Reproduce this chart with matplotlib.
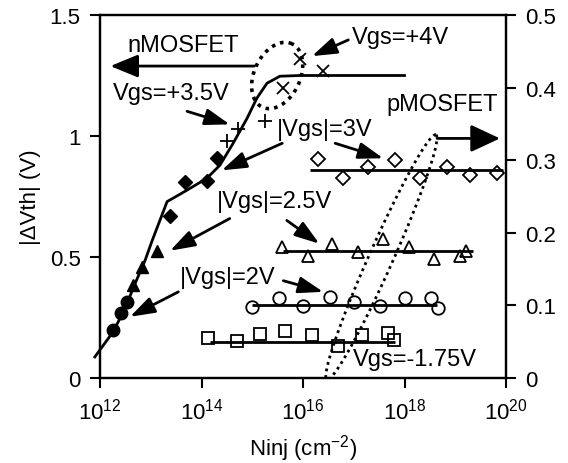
import matplotlib
matplotlib.use('Agg')
import numpy as np
import matplotlib.pyplot as plt

plt.rcParams['font.family'] = ['Liberation Sans', 'DejaVu Sans']
plt.rcParams['mathtext.fontset'] = 'custom'
plt.rcParams['mathtext.rm'] = 'Liberation Sans'
plt.rcParams['mathtext.default'] = 'regular'

# nMOSFET data (left axis)
n_circ_x = [1.8e12, 2.6e12, 3.4e12]
n_circ_y = [0.20, 0.27, 0.315]
n_tri_x = [4.5e12, 6.7e12, 1.3e13]
n_tri_y = [0.385, 0.46, 0.526]
n_dia_x = [2.4e13, 4.7e13, 1.3e14, 2.0e14]
n_dia_y = [0.67, 0.81, 0.816, 0.91]
n_plus_x = [3.2e14, 5.2e14, 1.8e15]
n_plus_y = [0.98, 1.03, 1.06]
n_x_x = [4.1e15, 8.7e15, 2.5e16]
n_x_y = [1.20, 1.32, 1.27]

# nMOSFET fitted curve
n_fit_x = [7.9e11, 1.8e12, 3.1e12, 4.9e12, 7.7e12, 1.05e13, 2.1e13, 2.7e13,
           4.7e13, 1.27e14, 2.3e14, 4.2e14, 7.9e14, 1.23e15, 1.95e15, 3.5e15,
           8.7e15, 1.0e18]
n_fit_y = [0.087, 0.19, 0.286, 0.39, 0.485, 0.564, 0.729, 0.742,
           0.771, 0.825, 0.879, 0.97, 1.073, 1.156, 1.218, 1.247,
           1.25, 1.25]

# pMOSFET data (right axis)
p_dia_x = [2.0e16, 6.2e16, 1.9e17, 6.5e17, 2.0e18, 6.9e18, 1.95e19, 6.6e19]
p_dia_y = [0.301, 0.276, 0.291, 0.300, 0.276, 0.291, 0.280, 0.282]
p_dia_fit = ([1.4e16, 8.7e19], 0.286)

p_tri_x = [3.9e15, 1.26e16, 3.7e16, 1.2e17, 3.8e17, 1.23e18, 3.8e18, 1.23e19, 1.6e19]
p_tri_y = [0.181, 0.168, 0.185, 0.174, 0.191, 0.180, 0.164, 0.168, 0.175]
p_tri_fit = ([4.0e15, 2.2e19], 0.175)

p_circ_x = [1.0e15, 3.4e15, 1.0e16, 3.4e16, 1.0e17, 3.3e17, 1.0e18, 3.3e18, 4.6e18]
p_circ_y = [0.098, 0.110, 0.099, 0.112, 0.105, 0.099, 0.110, 0.110, 0.097]
p_circ_fit = ([1.0e15, 4.4e18], 0.10)

p_sq_x = [1.35e14, 5.0e14, 1.4e15, 4.5e15, 1.5e16, 4.9e16, 1.45e17, 4.7e17, 6.2e17]
p_sq_y = [0.055, 0.051, 0.061, 0.065, 0.059, 0.044, 0.059, 0.062, 0.052]
p_sq_fit = ([1.5e14, 6.5e17], 0.05)

x_ticks = [1e12, 1e14, 1e16, 1e18, 1e20]
left_ticks = [0, 0.5, 1, 1.5]
left_labels = ['0', '0.5', '1', '1.5']
right_ticks = [0, 0.1, 0.2, 0.3, 0.4, 0.5]
right_labels = ['0', '0.1', '0.2', '0.3', '0.4', '0.5']

# labels: text, x, y (left-axis units)
labels = [
    ('nMOSFET', 4.4e13, 1.376),
    ('Vgs=+3.5V', 2.5e13, 1.177),
    ('Vgs=+4V', 8.5e17, 1.409),
    ('|Vgs|=3V', 2.7e16, 1.028),
    ('pMOSFET', 5.5e18, 1.131),
    ('|Vgs|=2.5V', 2.7e15, 0.733),
    ('|Vgs|=2V', 3.3e14, 0.419),
    ('Vgs=-1.75V', 1.6e18, 0.079),
]

# arrows: tail -> tip (left-axis units), head length, head half-width
arrows = [
    ((1.1e15, 1.289), (1.6e12, 1.289), 0.85, 0.35),
    ((4.4e18, 0.99), (7.6e19, 0.99), 0.9, 0.42),
    ((5.2e13, 1.102), (3.6e14, 1.048), 0.75, 0.25),
    ((7.8e16, 1.397), (1.5e16, 1.330), 0.75, 0.25),
    ((3.9e15, 0.970), (2.5e14, 0.858), 0.75, 0.25),
    ((4.3e16, 0.970), (3.8e17, 0.908), 0.75, 0.25),
    ((3.6e14, 0.659), (2.4e13, 0.526), 0.75, 0.25),
    ((4.8e15, 0.651), (2.1e16, 0.555), 0.75, 0.25),
    ((3.5e13, 0.356), (3.9e12, 0.253), 0.75, 0.25),
    ((4.1e15, 0.402), (2.5e16, 0.356), 0.75, 0.25),
]

# dotted loops: centre (left-axis units), full axes in pixels, angle, line width
loops = [
    ((3.1e15, 1.25), 70, 46, 65, 2.6),
    ((3.5e17, 0.499), 268, 24, 66, 2.0),
]

fig = plt.figure(figsize=(5.68, 4.64), dpi=100)
ax = fig.add_axes([100 / 568, 85 / 464, 406 / 568, 363 / 464])
ax2 = ax.twinx()

ax.set_xscale('log')
ax.set_xlim(1e12, 1e20)
ax.set_ylim(0, 1.5)
ax2.set_ylim(0, 0.5)

ms = 9
mew = 1.3
ax.plot(n_fit_x, n_fit_y, color='black', lw=2, clip_on=False, zorder=2)
ax.plot(n_circ_x, n_circ_y, 'o', color='black', ms=ms, zorder=3)
ax.plot(n_tri_x, n_tri_y, '^', color='black', ms=ms, zorder=3)
ax.plot(n_dia_x, n_dia_y, 'D', color='black', ms=ms - 1.5, zorder=3)
ax.plot(n_plus_x, n_plus_y, '+', color='black', ms=ms + 1, mew=mew, zorder=3)
ax.plot(n_x_x, n_x_y, 'x', color='black', ms=ms, mew=mew, zorder=3)

for xs, ys, mk, fit, size in [(p_dia_x, p_dia_y, 'D', p_dia_fit, ms - 1.5),
                              (p_tri_x, p_tri_y, '^', p_tri_fit, ms),
                              (p_circ_x, p_circ_y, 'o', p_circ_fit, ms),
                              (p_sq_x, p_sq_y, 's', p_sq_fit, ms - 0.5)]:
    ax2.hlines(fit[1], fit[0][0], fit[0][1], color='black', lw=2)
    ax2.plot(xs, ys, mk, ms=size, mfc='none', mec='black', mew=mew)

for txt, x, y in labels:
    ax.text(x, y, txt, ha='center', va='center', fontsize=17)

for tail, tip, hl, hw in arrows:
    ax.annotate('', xy=tip, xytext=tail,
                arrowprops=dict(arrowstyle=f'-|>,head_length={hl},head_width={hw}',
                                color='black', lw=2, shrinkA=0, shrinkB=0,
                                mutation_scale=20))

# ellipses drawn in pixel space, then mapped back to data
t = np.linspace(0, 2 * np.pi, 200)
for (xc, yc), w, h, ang, lw in loops:
    cx, cy = ax.transData.transform((xc, yc))
    a = np.deg2rad(ang)
    px = cx + w / 2 * np.cos(t) * np.cos(a) - h / 2 * np.sin(t) * np.sin(a)
    py = cy + w / 2 * np.cos(t) * np.sin(a) + h / 2 * np.sin(t) * np.cos(a)
    pts = ax.transData.inverted().transform(np.column_stack([px, py]))
    ax.plot(pts[:, 0], pts[:, 1], color='black', lw=lw, linestyle=(0, (1, 1.4)))

ax.set_xlim(1e12, 1e20)
ax.set_ylim(0, 1.5)
ax.set_xticks(x_ticks)
ax.minorticks_off()
ax.set_yticks(left_ticks)
ax.set_yticklabels(left_labels)
ax2.set_yticks(right_ticks)
ax2.set_yticklabels(right_labels)

for a in (ax, ax2):
    a.tick_params(direction='out', length=7, width=1.5, labelsize=16, pad=7)
    for s in a.spines.values():
        s.set_linewidth(1.6)

ax.set_xlabel('Ninj (cm$^{-2}$)', fontsize=16, labelpad=6)
ax.set_ylabel('|ΔVth| (V)', fontsize=16, labelpad=6)

fig.savefig('out.png', dpi=100, facecolor='white')
